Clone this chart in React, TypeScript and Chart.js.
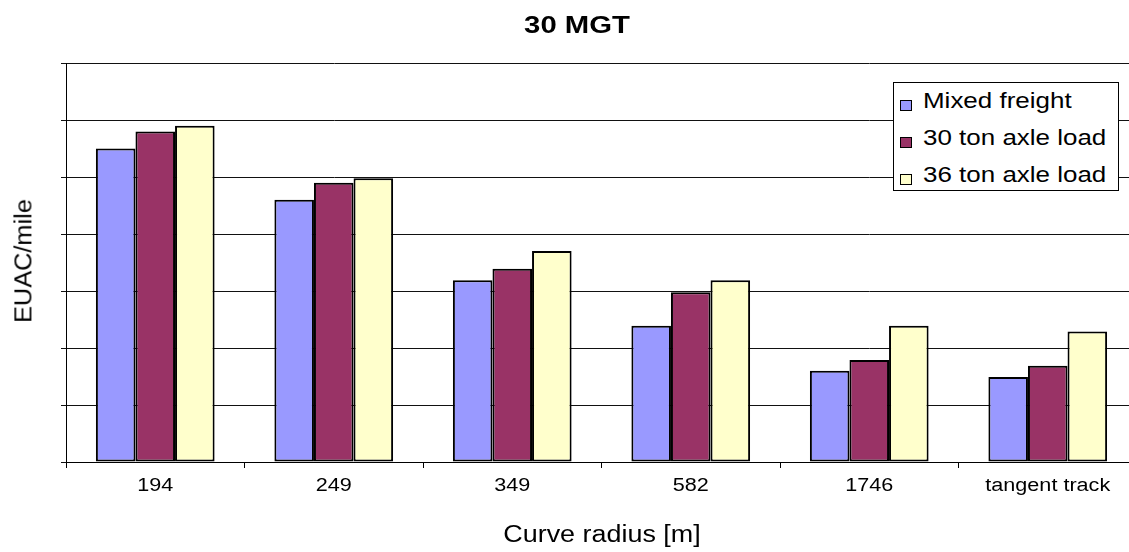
import React, { useEffect, useRef } from "react";
import { Chart, registerables } from "chart.js";

Chart.register(...registerables);

// Curve radius categories and EUAC/mile per series (in gridline units)
const categories = ["194", "249", "349", "582", "1746", "tangent track"];
const mixedFreight = [5.5, 4.6, 3.19, 2.39, 1.6, 1.49];
const ton30Axle = [5.8, 4.9, 3.39, 2.98, 1.79, 1.69];
const ton36Axle = [5.9, 4.98, 3.7, 3.19, 2.39, 2.29];

const seriesNames = ["Mixed freight", "30 ton axle load", "36 ton axle load"];
const seriesColors = ["#9999FF", "#993366", "#FFFFCC"];

const FONT = "'Liberation Sans', Arial, sans-serif";
const WIDE = 1.2; // horizontal stretch applied to all text

// Category labels drawn under the x axis with a horizontal stretch
const stretchedTickLabels = {
  id: "stretchedTickLabels",
  afterDraw(chart: any) {
    const scale = chart.scales.x;
    const ctx = chart.ctx as CanvasRenderingContext2D;
    ctx.save();
    ctx.font = `18px ${FONT}`;
    ctx.fillStyle = "#000000";
    ctx.textAlign = "center";
    ctx.textBaseline = "alphabetic";
    const baseline = scale.top + 29;
    scale.ticks.forEach((tick: any, i: number) => {
      const x = scale.getPixelForTick(i);
      ctx.save();
      ctx.translate(x, baseline);
      ctx.scale(WIDE, 1);
      ctx.fillText(String(scale.getLabelForValue(tick.value)), 0, 0);
      ctx.restore();
    });
    ctx.restore();
  },
};

export default function App() {
  const canvasRef = useRef<HTMLCanvasElement | null>(null);

  useEffect(() => {
    document.body.style.margin = "0";
    const canvas = canvasRef.current;
    if (!canvas) return;
    const chart = new Chart(canvas, {
      type: "bar",
      data: {
        labels: categories,
        datasets: [mixedFreight, ton30Axle, ton36Axle].map((values, i) => ({
          label: seriesNames[i],
          data: values,
          backgroundColor: seriesColors[i],
          borderColor: "#000000",
          borderWidth: 2,
          borderSkipped: false,
          categoryPercentage: 0.665,
          barPercentage: 1,
        })),
      },
      options: {
        animation: false,
        responsive: false,
        devicePixelRatio: 1,
        layout: { padding: { top: 63, left: 0, right: 0, bottom: 0 } },
        plugins: {
          legend: { display: false },
          title: { display: false },
          tooltip: { enabled: false },
        },
        scales: {
          x: {
            offset: true,
            grid: {
              offset: true,
              drawOnChartArea: false,
              drawTicks: true,
              tickLength: 6,
              color: "#000000",
            },
            border: { display: true, color: "#000000", width: 1 },
            ticks: { display: false },
            afterFit: (scale: any) => {
              scale.height = 90;
            },
          },
          y: {
            min: 0,
            max: 7,
            ticks: { display: false, stepSize: 1 },
            grid: {
              color: "#111111",
              lineWidth: 1,
              drawTicks: true,
              tickLength: 5,
            },
            border: { display: true, color: "#000000", width: 1 },
            afterFit: (scale: any) => {
              scale.width = 66;
            },
          },
        },
      },
      plugins: [stretchedTickLabels],
    });
    return () => chart.destroy();
  }, []);

  const legendFont = 22;
  const rowCapCenters = [100.5, 138, 174.7];

  return (
    <div
      style={{
        position: "relative",
        width: 1129,
        height: 552,
        overflow: "hidden",
        background: "#ffffff",
        fontFamily: FONT,
        color: "#000000",
      }}
    >
      <canvas
        ref={canvasRef}
        width={1137}
        height={552}
        style={{ position: "absolute", left: 0, top: 0, width: 1137, height: 552 }}
      />
      <div
        style={{
          position: "absolute",
          left: 577 - 300,
          width: 600,
          top: 25 - 0.49 * 24,
          textAlign: "center",
          fontWeight: "bold",
          fontSize: 24,
          lineHeight: "24px",
          whiteSpace: "nowrap",
          transform: `scaleX(${1.22})`,
        }}
      >
        30 MGT
      </div>
      <div
        style={{
          position: "absolute",
          left: 602 - 300,
          width: 600,
          top: 534.5 - 0.49 * 23,
          textAlign: "center",
          fontSize: 23,
          lineHeight: "23px",
          whiteSpace: "nowrap",
          transform: `scaleX(${1.17})`,
        }}
      >
        Curve radius [m]
      </div>
      <div
        style={{
          position: "absolute",
          left: 22.5,
          top: 261,
          transform: "translate(-50%, -50%) rotate(-90deg) scale(1.1, 1.08)",
          fontSize: 23,
          lineHeight: "23px",
          whiteSpace: "nowrap",
        }}
      >
        EUAC/mile
      </div>
      <div
        style={{
          position: "absolute",
          left: 893,
          top: 82,
          width: 226,
          height: 109,
          boxSizing: "border-box",
          border: "1px solid #000000",
          background: "#ffffff",
        }}
      />
      {seriesNames.map((name, i) => {
        const top = rowCapCenters[i] - 0.49 * legendFont;
        const baseline = top + 0.8465 * legendFont;
        return (
          <React.Fragment key={name}>
            <div
              style={{
                position: "absolute",
                left: 900,
                top: baseline - 8.5,
                width: 12,
                height: 11,
                boxSizing: "border-box",
                border: "1px solid #000000",
                background: seriesColors[i],
              }}
            />
            <div
              style={{
                position: "absolute",
                left: 922.5,
                top,
                fontSize: legendFont,
                lineHeight: `${legendFont}px`,
                whiteSpace: "nowrap",
                transformOrigin: "0 0",
                transform: `scaleX(${1.18})`,
              }}
            >
              {name}
            </div>
          </React.Fragment>
        );
      })}
    </div>
  );
}
